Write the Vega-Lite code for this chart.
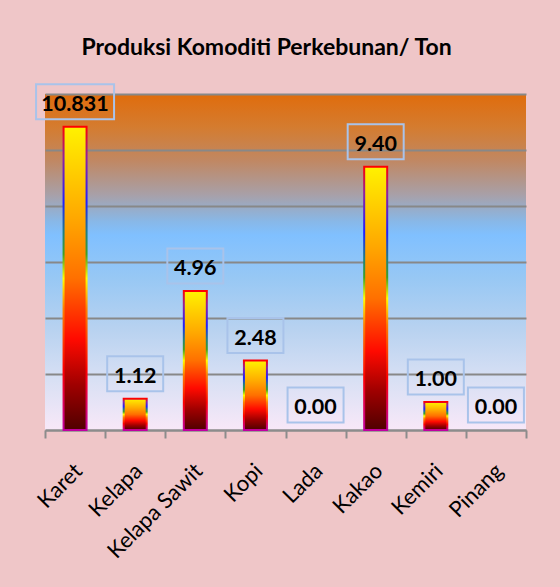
{
  "$schema": "https://vega.github.io/schema/vega-lite/v6.json",
  "width": 481,
  "height": 336,
  "autosize": "none",
  "padding": {"left": 45, "top": 94, "right": 34, "bottom": 157},
  "background": "#efc6c8",
  "view": {
    "stroke": null,
    "fill": {
      "gradient": "linear", "x1": 0, "y1": 0, "x2": 0, "y2": 1,
      "stops": [
        {"offset": 0, "color": "#e06c0c"},
        {"offset": 0.1, "color": "#d47c30"},
        {"offset": 0.2, "color": "#c08864"},
        {"offset": 0.3, "color": "#a8a0a8"},
        {"offset": 0.38, "color": "#88b8e8"},
        {"offset": 0.42, "color": "#80c0ff"},
        {"offset": 0.55, "color": "#98c8f4"},
        {"offset": 0.7, "color": "#b8d2f0"},
        {"offset": 0.85, "color": "#d8e0f4"},
        {"offset": 1, "color": "#f8e8f8"}
      ]
    }
  },
  "title": {
    "text": "Produksi Komoditi Perkebunan/ Ton",
    "font": "Lato",
    "fontSize": 23,
    "fontWeight": "bold",
    "color": "black",
    "anchor": "middle",
    "offset": 20,
    "dx": -19
  },
  "data": {
    "values": [
      {"komoditi": "Karet", "value": 10.831, "label": "10.831"},
      {"komoditi": "Kelapa", "value": 1.12, "label": "1.12"},
      {"komoditi": "Kelapa Sawit", "value": 4.96, "label": "4.96"},
      {"komoditi": "Kopi", "value": 2.48, "label": "2.48"},
      {"komoditi": "Lada", "value": 0, "label": "0.00"},
      {"komoditi": "Kakao", "value": 9.4, "label": "9.40"},
      {"komoditi": "Kemiri", "value": 1.0, "label": "1.00"},
      {"komoditi": "Pinang", "value": 0, "label": "0.00"}
    ]
  },
  "encoding": {
    "x": {
      "field": "komoditi",
      "type": "nominal",
      "sort": null,
      "scale": {"paddingInner": 0, "paddingOuter": 0},
      "axis": {
        "title": null,
        "labelAngle": -45,
        "labelAlign": "right",
        "labelBaseline": "middle",
        "labelFont": "Lato",
        "labelFontSize": 22,
        "labelColor": "black",
        "labelPadding": 29,
        "labelOffset": 3,
        "tickBand": "extent",
        "tickSize": 8,
        "tickWidth": 2,
        "tickColor": "#8c8c8c",
        "domainColor": "#8c8c8c",
        "domainWidth": 2,
        "grid": false
      }
    },
    "y": {
      "field": "value",
      "type": "quantitative",
      "scale": {"domain": [0, 12], "nice": false},
      "axis": {
        "title": null,
        "labels": false,
        "ticks": false,
        "domain": false,
        "grid": true,
        "values": [0, 2, 4, 6, 8, 10, 12],
        "gridColor": "#888888",
        "gridWidth": 2
      }
    }
  },
  "layer": [
    {
      "mark": {
        "type": "bar",
        "size": 23,
        "strokeWidth": 2,
        "fill": {
          "gradient": "linear", "x1": 0, "y1": 0, "x2": 0, "y2": 1,
          "stops": [
            {"offset": 0, "color": "#fff200"},
            {"offset": 0.3, "color": "#ffa800"},
            {"offset": 0.5, "color": "#ff7000"},
            {"offset": 0.7, "color": "#ff0a00"},
            {"offset": 0.85, "color": "#a00000"},
            {"offset": 1, "color": "#500000"}
          ]
        },
        "stroke": {
          "gradient": "linear", "x1": 0, "y1": 0, "x2": 0, "y2": 1,
          "stops": [
            {"offset": 0, "color": "#ff0000"},
            {"offset": 0.1, "color": "#9020a0"},
            {"offset": 0.25, "color": "#2020ff"},
            {"offset": 0.35, "color": "#208080"},
            {"offset": 0.42, "color": "#40a020"},
            {"offset": 0.5, "color": "#ffff00"},
            {"offset": 0.6, "color": "#ff8000"},
            {"offset": 0.8, "color": "#ff0000"},
            {"offset": 1, "color": "#c000a0"}
          ]
        }
      },
      "encoding": {
        "strokeOpacity": {"condition": {"test": "datum.value > 0", "value": 1}, "value": 0}
      }
    },
    {
      "mark": {
        "type": "point",
        "filled": false,
        "stroke": "#a9c3ea",
        "strokeWidth": 2,
        "opacity": 1,
        "yOffset": -25
      },
      "encoding": {
        "shape": {
          "condition": {"test": "datum.value > 10", "value": "M-1,-0.449L1,-0.449L1,0.449L-1,0.449Z"},
          "value": "M-1,-0.625L1,-0.625L1,0.625L-1,0.625Z"
        },
        "size": {"condition": {"test": "datum.value > 10", "value": 6084}, "value": 3136}
      }
    },
    {
      "mark": {
        "type": "text",
        "font": "Lato",
        "fontSize": 21.5,
        "fontWeight": "bold",
        "color": "black",
        "baseline": "alphabetic",
        "dy": -16
      },
      "encoding": {
        "text": {"field": "label", "type": "nominal"}
      }
    }
  ]
}
